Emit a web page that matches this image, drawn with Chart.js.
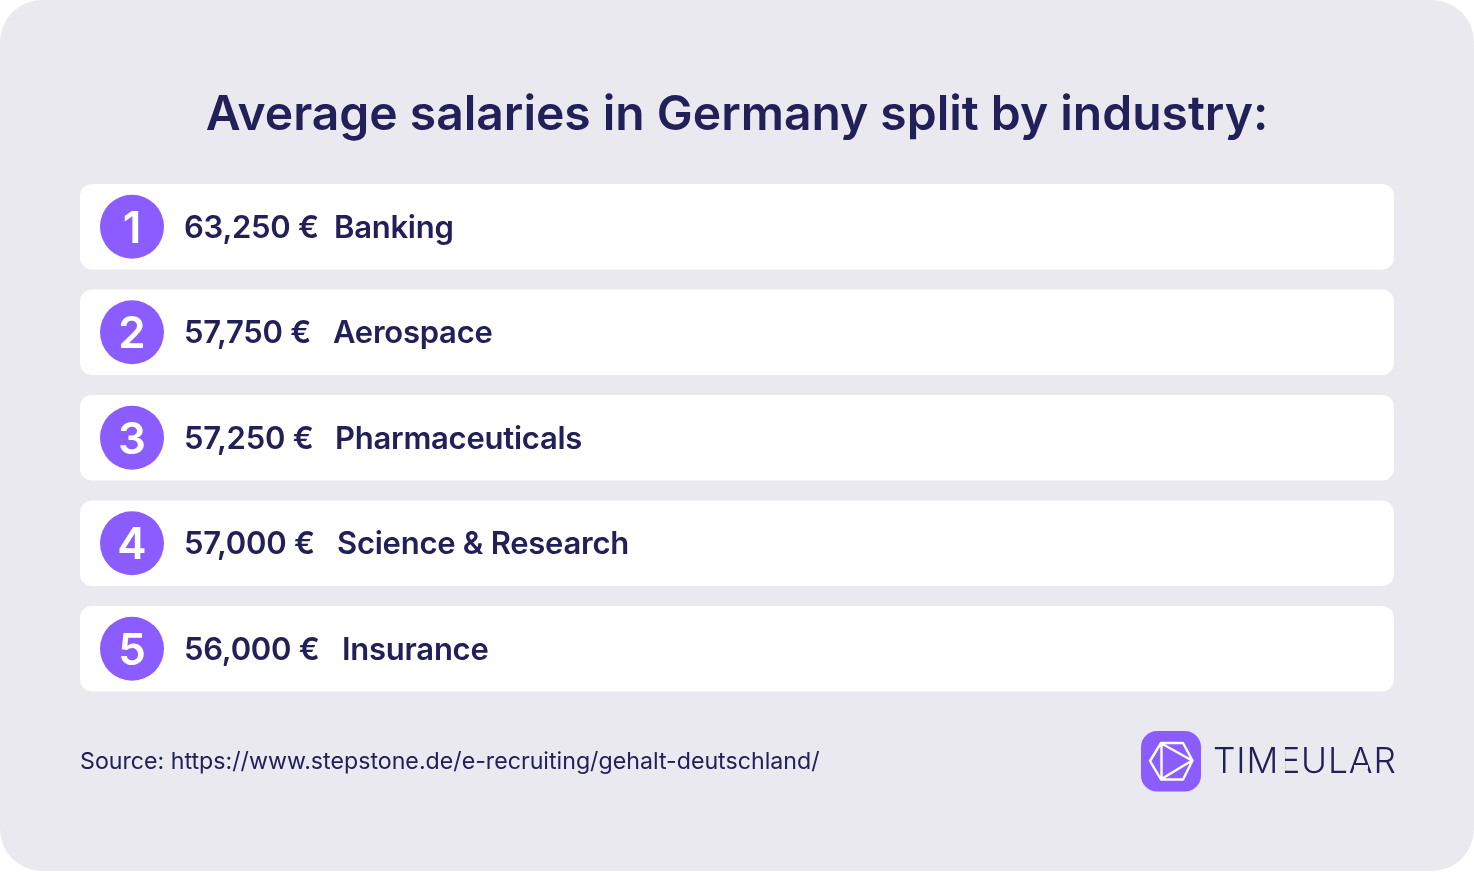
<!DOCTYPE html>
<html>
<head>
<meta charset="utf-8">
<script src="https://cdn.jsdelivr.net/npm/chart.js@4/dist/chart.umd.min.js"></script>
<style>
    html, body { margin: 0; padding: 0; background: #fff; }
    body { width: 1474px; height: 872px; overflow: hidden; position: relative; font-family: Inter, sans-serif; color: #212058; }
    #card { position: absolute; left: 0; top: 0; width: 1474px; height: 871px; background: #E9E9EF; border-radius: 42px; }
    #chart { position: absolute; left: 0; top: 0; }
    #overlay { position: absolute; left: 0; top: 0; width: 1474px; height: 872px; }
    .txt { position: absolute; white-space: nowrap; transform: translateY(-50%); line-height: 1.2; }
    h1 { position: absolute; left: 0; width: 1474px; top: 113px; margin: 0; text-align: center; font-size: 48px; font-weight: 600; transform: translateY(-50%); line-height: 1.2; }
    .badge { color: #fff; font-size: 44px; font-weight: 600; transform: translate(-50%, -50%); }
    .row { font-size: 31px; font-weight: 600; letter-spacing: -0.25px; }
    #source { left: 80px; top: 761.5px; font-size: 23.2px; font-weight: 400; }
    #brand { left: 1213px; top: 761px; font-size: 35.3px; font-weight: 300; letter-spacing: 0.9px; }
    #logo { position: absolute; left: 1140px; top: 731px; }
    .mask { position: absolute; background: #E9E9EF; }
</style>
</head>
<body>
<div id="card"></div>
<canvas id="chart" width="1474" height="872"></canvas>
<div id="overlay"></div>
<script>
const titleText = 'Average salaries in Germany split by industry:';
const industries = ['Banking', 'Aerospace', 'Pharmaceuticals', 'Science & Research', 'Insurance'];
const salaries = [63250, 57750, 57250, 57000, 56000];
const ranks = [1, 2, 3, 4, 5];
const sourceText = 'Source: https://www.stepstone.de/e-recruiting/gehalt-deutschland/';
const brandText = 'TIMEULAR';

// x axis just runs across the white rows, all rows are full width in the original
const X_MAX = 1314;
const BADGE_X = 52;
const TEXT_X = 104;

const chart = new Chart(document.getElementById('chart'), {
    data: {
        labels: industries,
        datasets: [
            {
                type: 'scatter',
                order: 1,
                data: industries.map(name => ({ x: BADGE_X, y: name })),
                pointRadius: 32,
                pointHoverRadius: 32,
                backgroundColor: '#8B5CFF',
                borderWidth: 0,
                xAxisID: 'x',
                yAxisID: 'y'
            },
            {
                type: 'bar',
                order: 2,
                data: industries.map(() => [0, X_MAX]),
                backgroundColor: '#FFFFFF',
                borderRadius: 12,
                borderSkipped: false,
                barPercentage: 0.81,
                categoryPercentage: 1,
                xAxisID: 'x',
                yAxisID: 'y'
            }
        ]
    },
    options: {
        indexAxis: 'y',
        responsive: false,
        animation: false,
        layout: { padding: { left: 80, right: 80, top: 174, bottom: 170.5 } },
        plugins: {
            legend: { display: false },
            tooltip: { enabled: false }
        },
        scales: {
            x: { type: 'linear', min: 0, max: X_MAX, display: false },
            y: { type: 'category', display: false }
        }
    }
});

const overlay = document.getElementById('overlay');

function addText(cls, text, left, top, id) {
    const el = document.createElement('div');
    el.className = 'txt ' + cls;
    el.textContent = text;
    if (id) el.id = id;
    if (left !== null) el.style.left = left + 'px';
    if (top !== null) el.style.top = top + 'px';
    overlay.appendChild(el);
    return el;
}

const h1 = document.createElement('h1');
h1.textContent = titleText;
overlay.appendChild(h1);

industries.forEach((name, i) => {
    const y = chart.scales.y.getPixelForValue(i);
    addText('badge', String(ranks[i]), chart.scales.x.getPixelForValue(BADGE_X), y);
    const value = salaries[i].toLocaleString('en-US') + ' €';
    const valueEl = addText('row', value, chart.scales.x.getPixelForValue(TEXT_X), y);
    const gap = i === 0 ? 15 : 22;
    addText('row', name, valueEl.offsetLeft + valueEl.offsetWidth + gap, y);
});

addText('', sourceText, null, null, 'source');
const brandEl = addText('', brandText, null, null, 'brand');

// the wordmark has an E without stem and an A without crossbar
function charBox(el, idx) {
    const range = document.createRange();
    range.setStart(el.firstChild, idx);
    range.setEnd(el.firstChild, idx + 1);
    return range.getBoundingClientRect();
}
function addMask(left, top, w, h) {
    const m = document.createElement('div');
    m.className = 'mask';
    m.style.cssText = `left:${left}px;top:${top}px;width:${w}px;height:${h}px`;
    overlay.appendChild(m);
}
const eBox = charBox(brandEl, 3);
const aBox = charBox(brandEl, 6);
addMask(eBox.left + 2, 747, 3.5, 2.4 + 28);
addMask(aBox.left + 5, 765, aBox.width - 10, 4);

overlay.insertAdjacentHTML('beforeend', `
    <svg id="logo" width="62" height="62" viewBox="0 0 62 62">
        <rect x="1" y="0" width="60" height="60.5" rx="16" fill="#8B5CFF"/>
        <path d="M21 12 H43 L52.5 29.5 L43 48.5 H21 L10 30 Z M21.5 12.5 L52 29.5 L21.5 48 Z" fill="none" stroke="#fff" stroke-width="2.4" stroke-linejoin="round"/>
    </svg>`);
</script>
</body>
</html>
